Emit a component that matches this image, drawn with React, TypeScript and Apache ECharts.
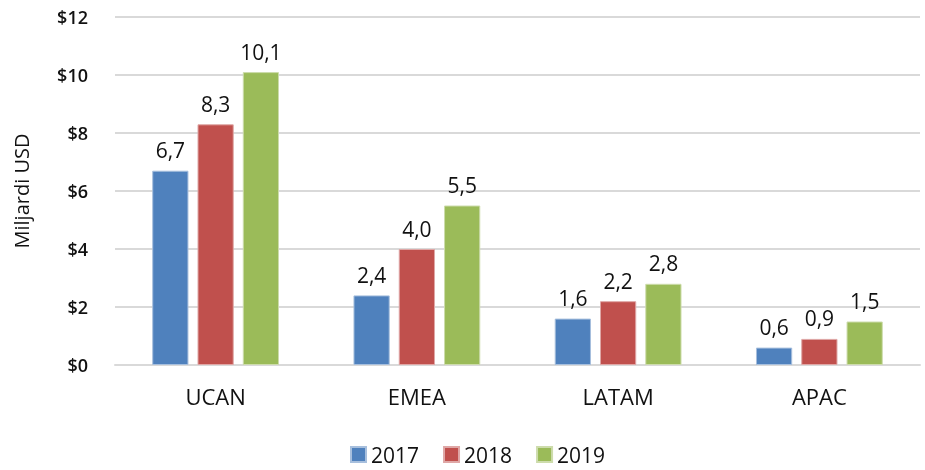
import React, { useEffect, useRef } from "react";
import * as echarts from "echarts";

const categories = ["UCAN", "EMEA", "LATAM", "APAC"];
const seriesNames = ["2017", "2018", "2019"];
const values2017 = [6.7, 2.4, 1.6, 0.6];
const values2018 = [8.3, 4.0, 2.2, 0.9];
const values2019 = [10.1, 5.5, 2.8, 1.5];
const colors = ["#4F81BD", "#C0504D", "#9BBB59"];
const borderColors = ["#a7bfdd", "#dfa7a6", "#cddcac"];

const FONT = "'Open Sans', 'Noto Sans', sans-serif";

export default function App() {
  const ref = useRef<HTMLDivElement>(null);
  useEffect(() => {
    if (!ref.current) return;
    const chart = echarts.init(ref.current, null, { renderer: "svg" });
    const data = [values2017, values2018, values2019];
    chart.setOption({
      animation: false,
      textStyle: { fontFamily: FONT },
      grid: { left: 115, right: 5, top: 17, bottom: 105, containLabel: false },
      legend: {
        bottom: 0,
        left: 345,
        itemWidth: 15,
        itemHeight: 15,
        itemGap: 24,
        icon: "rect",
        textStyle: { fontSize: 21, color: "#111", fontFamily: FONT },
        data: seriesNames,
      },
      xAxis: {
        type: "category",
        data: categories,
        axisLine: { lineStyle: { color: "#d9d9d9", width: 2 } },
        axisTick: { show: false },
        axisLabel: { fontSize: 22, color: "#111", margin: 20, fontFamily: FONT },
      },
      yAxis: {
        type: "value",
        min: 0,
        max: 12,
        interval: 2,
        name: "Miljardi USD",
        nameLocation: "middle",
        nameGap: 84,
        nameRotate: 90,
        nameTextStyle: { fontSize: 20, color: "#111", fontFamily: FONT },
        axisLine: { show: false },
        axisTick: { show: false },
        splitLine: { lineStyle: { color: "#d9d9d9", width: 2 } },
        axisLabel: {
          fontSize: 18,
          color: "#111",
          margin: 27,
          fontWeight: 600,
          fontFamily: FONT,
          formatter: (v: number) => "$" + v,
        },
      },
      series: seriesNames.map((name, i) => ({
        name,
        type: "bar",
        data: data[i],
        barGap: "25%",
        barCategoryGap: "37%",
        itemStyle: { color: colors[i], borderColor: borderColors[i], borderWidth: 1 },
        label: {
          show: true,
          position: "top",
          distance: 10,
          fontSize: 21,
          color: "#111",
          fontFamily: FONT,
          formatter: (p: any) => p.value.toFixed(1).replace(".", ","),
        },
      })),
    });
    return () => chart.dispose();
  }, []);
  return (
    <div
      ref={ref}
      style={{ position: "fixed", left: 0, top: 0, width: 925, height: 470 }}
    />
  );
}
